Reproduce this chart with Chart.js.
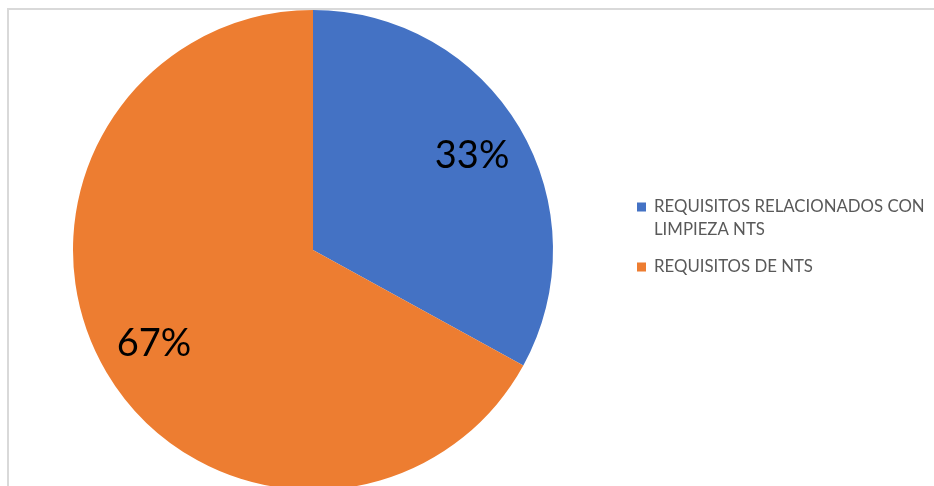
<!DOCTYPE html>
<html>
<head>
<meta charset="utf-8">
<script src="https://cdn.jsdelivr.net/npm/chart.js@4/dist/chart.umd.min.js"></script>
<style>
  html, body { margin: 0; padding: 0; background: #fff; overflow: hidden; }
  #wrap { position: relative; width: 934px; height: 500px; }
  #frame { position: absolute; left: 7px; top: 8px; right: 0; bottom: 0;
           border-left: 2px solid #d9d9d9; border-top: 2px solid #d9d9d9; }
  canvas { position: absolute; left: 0; top: 0; }
</style>
</head>
<body>
<div id="wrap">
  <div id="frame"></div>
  <canvas id="pieChart" width="934" height="500"></canvas>
</div>
<script>
// Categorías y valores (porcentajes)
const categories = ['REQUISITOS RELACIONADOS CON LIMPIEZA NTS', 'REQUISITOS DE NTS'];
const values = [33, 67];
const colors = ['#4472C4', '#ED7D31'];

// Etiquetas de porcentaje dentro de cada sector
const pctLabels = {
    id: 'pctLabels',
    afterDatasetsDraw(chart) {
        const ctx = chart.ctx;
        const meta = chart.getDatasetMeta(0);
        const total = values.reduce((a, b) => a + b, 0);
        ctx.save();
        ctx.font = '38px Lato, "Liberation Sans", sans-serif';
        ctx.fillStyle = '#000';
        ctx.textAlign = 'center';
        ctx.textBaseline = 'middle';
        meta.data.forEach((arc, i) => {
            const mid = (arc.startAngle + arc.endAngle) / 2;
            const r = arc.outerRadius * 0.77;
            const x = arc.x + Math.cos(mid) * r;
            const y = arc.y + Math.sin(mid) * r;
            ctx.fillText(Math.round(values[i] / total * 100) + '%', x, y);
        });
        ctx.restore();
    }
};

// Leyenda a la derecha, con ajuste de línea
const sideLegend = {
    id: 'sideLegend',
    afterDraw(chart) {
        const ctx = chart.ctx;
        const boxX = 637, textX = 654, maxW = 280, lineH = 23;
        let y = 207;
        ctx.save();
        ctx.font = '16.8px Lato, "Liberation Sans", sans-serif';
        ctx.textBaseline = 'middle';
        chart.data.labels.forEach((label, i) => {
            // partir texto en líneas
            const words = label.split(' ');
            const lines = [];
            let cur = '';
            words.forEach(w => {
                const t = cur ? cur + ' ' + w : w;
                if (ctx.measureText(t).width > maxW && cur) { lines.push(cur); cur = w; }
                else cur = t;
            });
            lines.push(cur);
            ctx.fillStyle = chart.data.datasets[0].backgroundColor[i];
            ctx.fillRect(boxX, y - 4.5, 9, 9);
            ctx.fillStyle = '#595959';
            lines.forEach((ln, j) => ctx.fillText(ln, textX, y + j * lineH));
            y += lines.length * lineH + 14;
        });
        ctx.restore();
    }
};

const pieCtx = document.getElementById('pieChart').getContext('2d');
const pieChart = new Chart(pieCtx, {
    type: 'pie',
    data: {
        labels: categories,
        datasets: [{
            data: values,
            backgroundColor: colors,
            borderWidth: 0
        }]
    },
    options: {
        responsive: false,
        animation: false,
        layout: {
            padding: { left: 73, right: 381, top: 10, bottom: 10 }
        },
        plugins: {
            legend: { display: false },
            tooltip: { enabled: false }
        }
    },
    plugins: [pctLabels, sideLegend]
});
</script>
</body>
</html>
